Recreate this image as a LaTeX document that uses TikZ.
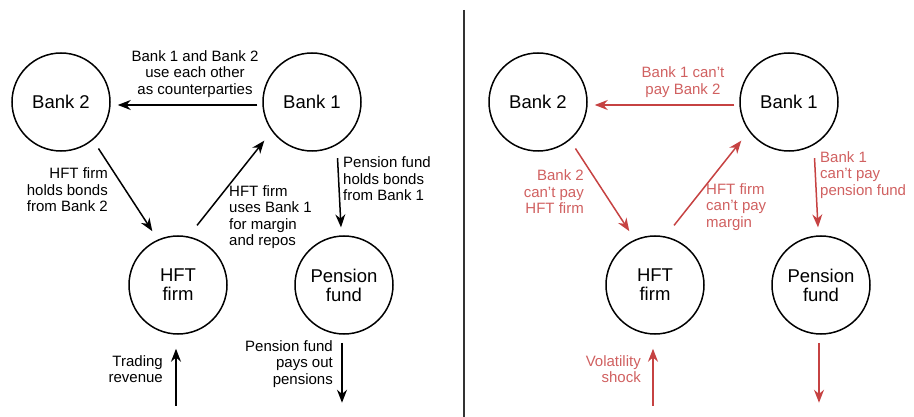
\documentclass[tikz,border=0pt]{standalone}
\usepackage{fontspec}
\setmainfont{Liberation Sans}
\usepackage{xcolor}
\definecolor{rouge}{RGB}{198,66,66}
\definecolor{rougeclair}{RGB}{208,96,96}
\usepackage{tikz}
\usetikzlibrary{calc,positioning,arrows.meta}
\tikzset{
    actor/.style={
    circle,draw=black,line width=1.5pt,minimum size=98pt,inner sep=0pt,align=center,font=\fontsize{18.5}{19}\selectfont
    },
    note/.style={
    inner sep=0pt,font=\fontsize{15}{16.5}\selectfont
    },
    rnote/.style={note,text=rougeclair},
  line/.style={draw, line width=1.5pt, -{Stealth[length=13pt,width=10pt]}},
  rline/.style={line, draw=rouge, color=rouge}
}

\begin{document}
\begin{tikzpicture}[x=1pt,y=-1pt]
    \useasboundingbox (0,0) rectangle (914,417);

    % left: exposures
    \node[actor] (b2L) at (61,102) {Bank 2};
    \node[actor] (b1L) at (312,102) {Bank 1};
    \node[actor] (hftL) at (178,285) {HFT\\ firm};
    \node[actor] (penL) at (344,285) {Pension\\ fund};
    \coordinate (trL) at ($(hftL.south)+(-2,71)$);
    \coordinate (poL) at ($(penL.south)+(-2,68)$);

    \node[note,align=center] (cpL) at (195,74) {Bank 1 and Bank 2\\ use each other\\ as counterparties};
    \node[note,align=right,anchor=east] (hbL) at (108,190) {HFT firm\\ holds bonds\\ from Bank 2};
    \node[note,align=left,anchor=west] (ubL) at (229,217) {HFT firm\\ uses Bank 1\\ for margin\\ and repos};
    \node[note,align=left,anchor=west] (pbL) at (343,179) {Pension fund\\ holds bonds\\ from Bank 1};
    \node[note,align=right,anchor=east] (revL) at (163,369) {Trading\\ revenue};
    \node[note,align=right,anchor=east] (payL) at (333,364) {Pension fund\\ pays out\\ pensions};

    \begin{scope} [every path/.style=line]
      \path ([yshift=-3pt]b1L.west) -- ([yshift=-3pt]b2L.east) [shorten <=5pt, shorten >=7pt];
      \path (b2L.-50) -- (hftL.114) [shorten <=10pt, shorten >=10pt];
      \path (hftL.78) -- (b1L.216) [shorten <=14pt, shorten >=12pt];
      \path (b1L.-60) -- (penL.93) [shorten <=13pt, shorten >=8pt];
      \path (trL) -- ([xshift=-2pt]hftL.south) [shorten >=14pt];
      \path ([xshift=-2pt]penL.south) -- (poL) [shorten <=8pt];
    \end{scope}

    % divider
    \draw[line width=1.3pt,black!80] (464,10) -- (464,417);

    % right: defaults
    \node[actor] (b2R) at (538,102) {Bank 2};
    \node[actor] (b1R) at (789,102) {Bank 1};
    \node[actor] (hftR) at (655,285) {HFT\\ firm};
    \node[actor] (penR) at (821,285) {Pension\\ fund};
    \coordinate (trR) at ($(hftR.south)+(-2,71)$);
    \coordinate (poR) at ($(penR.south)+(-2,68)$);

    \node[rnote,align=center] (cpR) at (683,82) {Bank 1 can't\\ pay Bank 2};
    \node[rnote,align=right,anchor=east] (hbR) at (584,192) {Bank 2\\ can't pay\\ HFT firm};
    \node[rnote,align=left,anchor=west] (ubR) at (706,207) {HFT firm\\ can't pay\\ margin};
    \node[rnote,align=left,anchor=west] (pbR) at (820,175) {Bank 1\\ can't pay\\ pension fund};
    \node[rnote,align=right,anchor=east] (volR) at (641,369) {Volatility\\ shock};

    \begin{scope} [every path/.style=rline]
      \path ([yshift=-3pt]b1R.west) -- ([yshift=-3pt]b2R.east) [shorten <=5pt, shorten >=7pt];
      \path (b2R.-50) -- (hftR.114) [shorten <=10pt, shorten >=10pt];
      \path (hftR.78) -- (b1R.216) [shorten <=14pt, shorten >=12pt];
      \path (b1R.-60) -- (penR.93) [shorten <=13pt, shorten >=8pt];
      \path (trR) -- ([xshift=-2pt]hftR.south) [shorten >=14pt];
      \path ([xshift=-2pt]penR.south) -- (poR) [shorten <=8pt];
    \end{scope}
  \end{tikzpicture}
\end{document}
